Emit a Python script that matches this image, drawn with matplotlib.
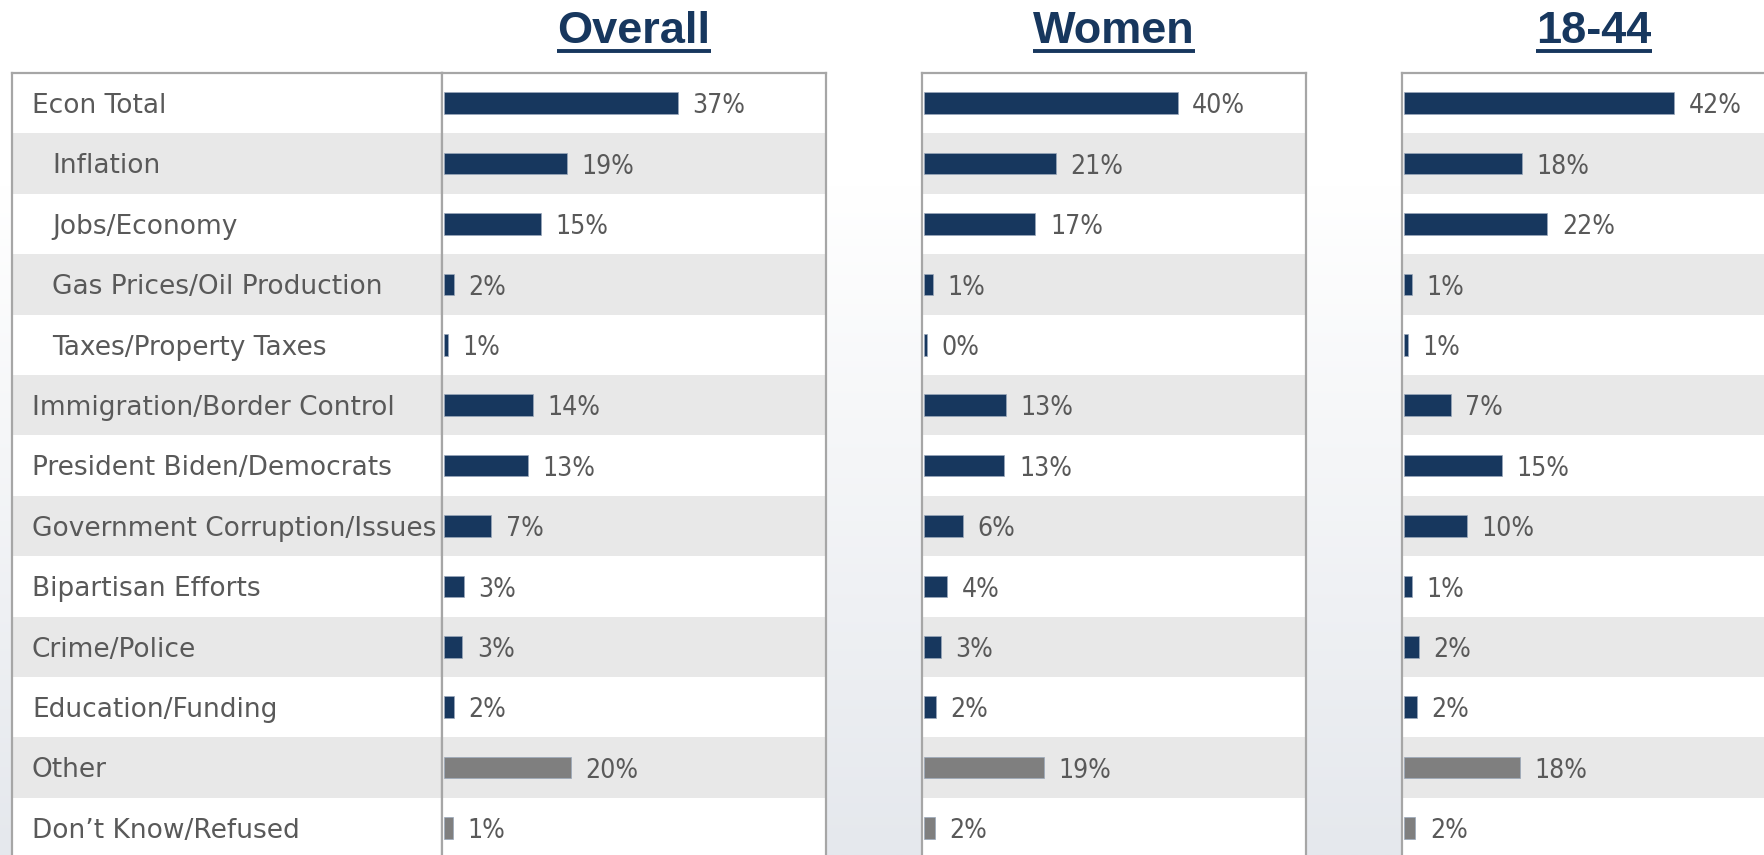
import numpy as np
import matplotlib
matplotlib.use("Agg")
import matplotlib.pyplot as plt
from matplotlib.lines import Line2D

# ---------------- data ----------------
categories = ["Econ Total", "Inflation", "Jobs/Economy", "Gas Prices/Oil Production",
              "Taxes/Property Taxes", "Immigration/Border Control",
              "President Biden/Democrats", "Government Corruption/Issues",
              "Bipartisan Efforts", "Crime/Police", "Education/Funding",
              "Other", "Don\u2019t Know/Refused"]
sub_item = [False, True, True, True, True, False, False, False, False, False, False, False, False]
panel_titles = ["Overall", "Women", "18-44"]

overall_values = [36.9, 19.4, 15.3, 1.6, 0.6, 14.0, 13.3, 7.5, 3.1, 2.9, 1.6, 20.0, 1.4]
overall_labels = ["37%", "19%", "15%", "2%", "1%", "14%", "13%", "7%", "3%", "3%", "2%", "20%", "1%"]
women_values = [40.0, 20.8, 17.6, 1.4, 0.5, 12.9, 12.7, 6.1, 3.7, 2.7, 1.9, 18.9, 1.7]
women_labels = ["40%", "21%", "17%", "1%", "0%", "13%", "13%", "6%", "4%", "3%", "2%", "19%", "2%"]
age_values = [42.6, 18.6, 22.6, 1.3, 0.6, 7.4, 15.4, 9.9, 1.2, 2.4, 2.0, 18.3, 1.8]
age_labels = ["42%", "18%", "22%", "1%", "1%", "7%", "15%", "10%", "1%", "2%", "2%", "18%", "2%"]

panel_values = [overall_values, women_values, age_values]
panel_labels = [overall_labels, women_labels, age_labels]

NAVY = "#17375e"
GREY_BAR = "#7f7f7f"
bar_colors = [NAVY] * 11 + [GREY_BAR] * 2

# ---------------- layout (pixels) ----------------
W, H = 1765, 855
TOP = 73.0
ROW = 60.4
N = len(categories)
BOTTOM = TOP + N * ROW
PX_PER_PCT = 6.34
PANEL_W = 384
BORDER = "#a6a6a6"
STRIPE = "#e8e8e8"
TEXT = "#595959"

fig = plt.figure(figsize=(W / 100, H / 100), dpi=100)


def px_axes(x0, y0, x1, y1, **kw):
    return fig.add_axes([x0 / W, 1 - y1 / H, (x1 - x0) / W, (y1 - y0) / H], **kw)


# background gradient
bg = fig.add_axes([0, 0, 1, 1], zorder=-10)
yy = np.linspace(0, 1, 400)
t = np.clip((yy - 0.22) / 0.78, 0, 1)
top_c = np.array([1.0, 1.0, 1.0])
bot_c = np.array([229, 232, 237]) / 255
grad = (1 - t)[:, None] * top_c + t[:, None] * bot_c
bg.imshow(grad[:, None, :], aspect="auto", extent=[0, 1, 0, 1], origin="upper")
bg.set_axis_off()


def style_axes(ax):
    ax.set_facecolor("white")
    ax.set_ylim(N - 0.5, -0.5)
    for i in range(N):
        if i % 2 == 1:
            ax.axhspan(i - 0.5, i + 0.5, color=STRIPE, lw=0, zorder=0)
    for s in ax.spines.values():
        s.set_color(BORDER)
        s.set_linewidth(1.6)
    ax.set_xticks([])
    ax.set_yticks([])


# label column
lab_ax = px_axes(12, TOP, 442, BOTTOM)
style_axes(lab_ax)
lab_ax.set_xlim(0, 430)
for i, (cat, sub) in enumerate(zip(categories, sub_item)):
    lab_ax.text(40 if sub else 20, i + 9.8 / ROW, cat, ha="left", va="baseline",
                fontsize=19, color=TEXT, family="DejaVu Sans")

# bar panels
panel_x = [442, 922, 1402]
title_texts = []
for k, x0 in enumerate(panel_x):
    ax = px_axes(x0, TOP, x0 + PANEL_W, BOTTOM)
    style_axes(ax)
    ax.set_xlim(-0.3, PANEL_W / PX_PER_PCT - 0.3)
    y = np.arange(N)
    vals = panel_values[k]
    ax.barh(y, vals, height=0.36, color=bar_colors, edgecolor="#9aa8bb",
            linewidth=0.5, zorder=3)
    for i, (v, lbl) in enumerate(zip(vals, panel_labels[k])):
        ax.annotate(lbl, xy=(v, i), xytext=(10.5, -7.4), textcoords="offset points",
                    ha="left", va="baseline", fontsize=19, color=TEXT,
                    family="DejaVu Sans", fontstretch="condensed", zorder=4)
    cx = x0 + PANEL_W / 2
    tt = fig.text(cx / W, 1 - 43 / H, panel_titles[k], ha="center", va="baseline",
                  fontsize=32.5, fontweight="bold", color=NAVY,
                  family=["Liberation Sans", "DejaVu Sans"])
    title_texts.append(tt)

# underline titles
fig.canvas.draw()
for tt in title_texts:
    bb = tt.get_window_extent()
    yline = 1 - 51 / H
    fig.add_artist(Line2D([bb.x0 / W, bb.x1 / W], [yline, yline], color=NAVY,
                          lw=2.8, transform=fig.transFigure, solid_capstyle="butt"))

fig.savefig("out.png", dpi=100)
